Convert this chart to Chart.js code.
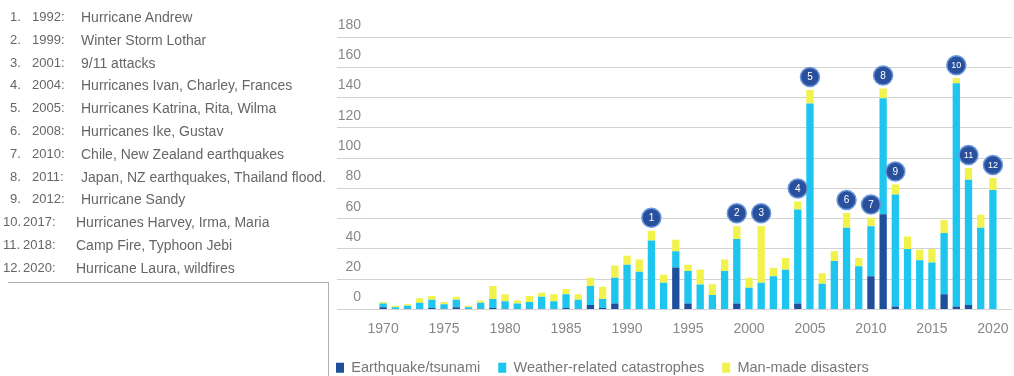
<!DOCTYPE html>
<html>
<head>
<meta charset="utf-8">
<script src="https://cdn.jsdelivr.net/npm/chart.js@4"></script>
<style>
  html, body { margin: 0; padding: 0; background: #fff; }
  #wrap { position: relative; width: 1014px; height: 376px; overflow: hidden; }
  #chart { position: absolute; left: 0; top: 0; }
  .ev { position: absolute; font: 13px "Liberation Sans", Arial, sans-serif; color: #666; white-space: nowrap; line-height: 16px; }
  .ev.name { font-size: 14px; }
  #box { position: absolute; left: 8px; top: 282px; width: 320px; height: 100px; border-top: 1px solid #b0b0b0; border-right: 1px solid #b0b0b0; }
</style>
</head>
<body>
<div id="wrap">
  <canvas id="chart" width="1014" height="376"></canvas>
  <div id="events"></div>
  <div id="box"></div>
</div>
<script>
// Years on the category axis
const years = ['1970','1971','1972','1973','1974','1975','1976','1977','1978','1979',
  '1980','1981','1982','1983','1984','1985','1986','1987','1988','1989',
  '1990','1991','1992','1993','1994','1995','1996','1997','1998','1999',
  '2000','2001','2002','2003','2004','2005','2006','2007','2008','2009',
  '2010','2011','2012','2013','2014','2015','2016','2017','2018','2019','2020'];

// Insured losses by event type (USD bn)
const earthquake = [1.5,0,0.5,0,1,0.5,1.5,0,0.5,1,
  0.5,0,0.5,0.5,0,1,0.5,3,1,4,
  0,0,0,0,27.7,4,0,0,0,4,
  0,0,0,0,4,0,0,0,0,0,
  22,63,2,0,0,0,10,2,3,0,0];
const weather = [2.5,1.5,2,4.5,5.5,3,5,1.5,4,6,
  5,4,4.5,8,5.5,9,6,12.5,6,17,
  29.5,25,45.5,17.7,10.8,21.5,16.5,9.6,25.5,42.5,
  14.4,17.6,22,26.2,62,136,17,32,54,28.5,
  33,76.5,74,40,32.5,31,40.5,147.4,82.7,54,79];
const manmade = [1,1,1,3,2.5,1.5,2,1,1.5,8.5,
  4.5,2,4,2.5,4.5,3.5,3.5,5.5,8,8,
  6,8,6.5,5.3,7.5,4,10,7,7.5,8.5,
  6.6,37.4,5.5,7.8,5.4,9,7,6.5,9.7,5.5,
  5.7,6.5,6.5,8.3,7,9,8.5,3.3,7.7,8.6,7.8];

// Numbered major events
const eventYears = ['1992','1999','2001','2004','2005','2008','2010','2011','2012','2017','2018','2020'];
const eventNumbers = ['1','2','3','4','5','6','7','8','9','10','11','12'];
const eventNames = ['Hurricane Andrew','Winter Storm Lothar','9/11 attacks','Hurricanes Ivan, Charley, Frances',
  'Hurricanes Katrina, Rita, Wilma','Hurricanes Ike, Gustav','Chile, New Zealand earthquakes',
  'Japan, NZ earthquakes, Thailand flood.','Hurricane Sandy','Hurricanes Harvey, Irma, Maria',
  'Camp Fire, Typhoon Jebi','Hurricane Laura, wildfires'];

const yTicks = [0,20,40,60,80,100,120,140,160,180];

// Event list on the left
const list = document.getElementById('events');
eventNumbers.forEach((n, i) => {
  const top = 9 + i * 22.8;
  const two = n.length > 1;
  const parts = [
    [two ? 3 : 10, n + '.', ''],
    [two ? 23 : 32, eventYears[i] + ':', ''],
    [two ? 76 : 81, eventNames[i], 'name']
  ];
  parts.forEach(([left, txt, cls]) => {
    const d = document.createElement('div');
    d.className = 'ev ' + cls;
    d.style.left = left + 'px';
    d.style.top = top + 'px';
    d.textContent = txt;
    list.appendChild(d);
  });
});

const FONT = '"Liberation Sans", Arial, sans-serif';

// Numbered circles above the stacked totals
const eventMarkers = {
  id: 'eventMarkers',
  afterDatasetsDraw(chart) {
    const ctx = chart.ctx;
    const xs = chart.scales.x, ys = chart.scales.y;
    ctx.save();
    eventYears.forEach((yr, i) => {
      const idx = years.indexOf(yr);
      const total = earthquake[idx] + weather[idx] + manmade[idx];
      const cx = xs.getPixelForValue(idx);
      const cy = ys.getPixelForValue(total) - 13;
      ctx.beginPath();
      ctx.arc(cx, cy, 9.5, 0, Math.PI * 2);
      ctx.fillStyle = '#29509c';
      ctx.fill();
      ctx.lineWidth = 1.5;
      ctx.strokeStyle = '#6a97dc';
      ctx.stroke();
      ctx.fillStyle = '#ffffff';
      ctx.font = (eventNumbers[i].length > 1 ? '9px ' : '10px ') + FONT;
      ctx.textAlign = 'center';
      ctx.textBaseline = 'middle';
      ctx.fillText(eventNumbers[i], cx, cy + 0.5);
    });
    ctx.restore();
  }
};

const gridColor = '#d2d2d2';

new Chart(document.getElementById('chart'), {
  type: 'bar',
  data: {
    labels: years,
    datasets: [
      { label: 'Earthquake/tsunami', data: earthquake, backgroundColor: '#1f4f9b', stack: 's' },
      { label: 'Weather-related catastrophes', data: weather, backgroundColor: '#1ec6ef', stack: 's' },
      { label: 'Man-made disasters', data: manmade, backgroundColor: '#f2f24c', stack: 's' }
    ]
  },
  options: {
    responsive: false,
    animation: false,
    events: [],
    layout: { padding: { left: 318, top: 37, right: 2, bottom: -9 } },
    datasets: { bar: { categoryPercentage: 1, barPercentage: 0.6, borderWidth: 0 } },
    scales: {
      x: {
        stacked: true,
        grid: { display: false, drawTicks: false },
        border: { display: false },
        ticks: {
          autoSkip: false, maxRotation: 0, minRotation: 0, padding: 11,
          color: '#888', font: { family: FONT, size: 14 },
          callback: (v, i) => (Number(years[i]) % 5 === 0 ? years[i] : '')
        },
        afterFit: s => { s.height = 33; s.paddingLeft = 0; s.paddingRight = 0; }
      },
      y: {
        stacked: true, min: 0, max: 180,
        afterBuildTicks: s => { s.ticks = yTicks.map(v => ({ value: v })); },
        grid: { color: gridColor, lineWidth: 1, tickLength: 40, tickColor: gridColor },
        border: { display: false },
        ticks: { padding: -24, labelOffset: -12, color: '#888', font: { family: FONT, size: 14 } },
        afterFit: s => { s.width = 59; s.paddingTop = 0; s.paddingBottom = 0; }
      },
      yRight: {
        position: 'right', min: 0, max: 180,
        afterBuildTicks: s => { s.ticks = yTicks.map(v => ({ value: v })); },
        grid: { drawOnChartArea: false, color: gridColor, lineWidth: 1, tickLength: 13, tickColor: gridColor },
        border: { display: false },
        ticks: { display: false },
        afterFit: s => { s.width = 13; s.paddingTop = 0; s.paddingBottom = 0; }
      }
    },
    plugins: {
      legend: {
        position: 'bottom', align: 'start',
        labels: { boxWidth: 8, boxHeight: 10, padding: 18, color: '#777', font: { family: FONT, size: 14.5 } }
      },
      tooltip: { enabled: false },
      title: { display: false }
    }
  },
  plugins: [eventMarkers]
});
</script>
</body>
</html>
